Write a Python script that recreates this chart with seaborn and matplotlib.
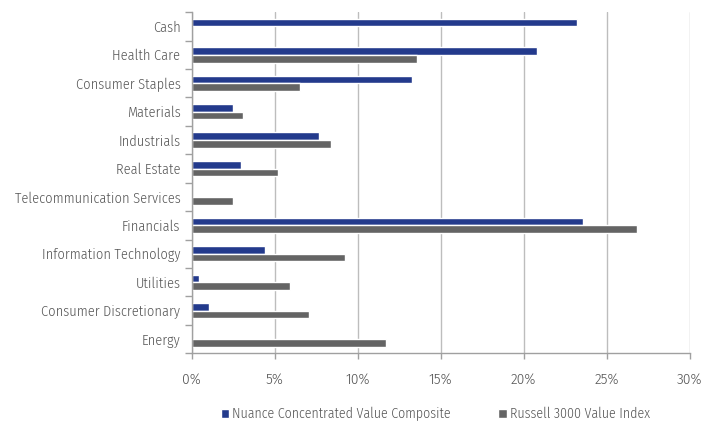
import matplotlib
matplotlib.use("Agg")
import matplotlib.pyplot as plt
from matplotlib.patches import Patch
from matplotlib.ticker import FixedLocator, PercentFormatter
import numpy as np
import pandas as pd
import seaborn as sns

sectors = [
    "Cash", "Health Care", "Consumer Staples", "Materials", "Industrials",
    "Real Estate", "Telecommunication Services", "Financials",
    "Information Technology", "Utilities", "Consumer Discretionary", "Energy",
]
nuance = [23.2, 20.8, 13.3, 2.5, 7.7, 3.0, 0.0, 23.6, 4.45, 0.45, 1.05, 0.0]
russell = [0.0, 13.6, 6.5, 3.1, 8.4, 5.2, 2.5, 26.85, 9.25, 5.9, 7.05, 11.7]
series_names = ["Nuance Concentrated Value Composite", "Russell 3000 Value Index"]
x_ticks = [0, 5, 10, 15, 20, 25, 30]

navy = "#233a8c"
grey = "#646464"
text_color = "#555555"
axis_color = "#a0a0a0"

sns.set_theme(style="white")
plt.rcParams["font.family"] = ["Fira Sans Condensed", "PT Sans Narrow", "DejaVu Sans"]
plt.rcParams["font.weight"] = 300

df = pd.DataFrame({
    "sector": sectors * 2,
    "weight": nuance + russell,
    "series": [series_names[0]] * len(sectors) + [series_names[1]] * len(sectors),
})

fig = plt.figure(figsize=(7.23, 4.21), dpi=100)
ax = fig.add_axes([0.265, 0.161, 0.689, 0.81])

sns.barplot(
    data=df, x="weight", y="sector", hue="series", order=sectors,
    hue_order=series_names, palette=[navy, grey], orient="h",
    width=0.54, saturation=1, legend=False, ax=ax,
)

ax.set_xlim(0, 30)
ax.set_ylim(len(sectors) - 0.5, -0.5)
ax.xaxis.set_major_locator(FixedLocator(x_ticks))
ax.xaxis.set_major_formatter(PercentFormatter(decimals=0))
ax.grid(axis="x", color="#bdbdbd", linewidth=1)
ax.set_axisbelow(True)
ax.set_xlabel("")
ax.set_ylabel("")

for side in ("top", "right"):
    ax.spines[side].set_visible(False)
for side in ("left", "bottom"):
    ax.spines[side].set_color(axis_color)
    ax.spines[side].set_linewidth(1)

ax.yaxis.set_minor_locator(FixedLocator(np.arange(len(sectors) + 1) - 0.5))
ax.tick_params(axis="y", which="minor", left=True, length=5, width=1, color=axis_color, direction="out")
ax.tick_params(axis="y", which="major", length=0, pad=8, labelsize=10.3, labelcolor=text_color)
ax.tick_params(axis="x", which="major", bottom=True, length=4, width=1, color=axis_color,
               direction="out", pad=10, labelsize=11, labelcolor=text_color)

handles = [Patch(facecolor=navy), Patch(facecolor=grey)]
fig.legend(
    handles, series_names, loc="center left", bbox_to_anchor=(0.305, 0.016),
    ncol=2, frameon=False, fontsize=10, labelcolor=text_color,
    handlelength=0.6, handleheight=0.7, handletextpad=0.25, columnspacing=3.4,
    borderaxespad=0, borderpad=0,
)

fig.savefig("out.png", dpi=100)
